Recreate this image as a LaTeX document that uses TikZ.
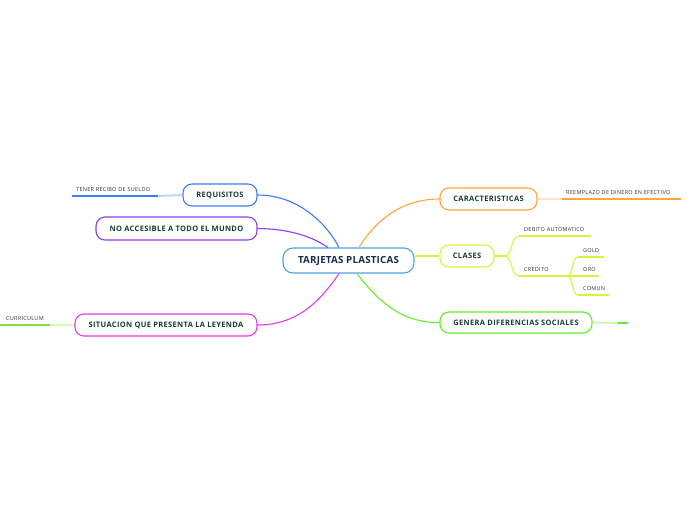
\documentclass[tikz,border=0pt]{standalone}
\usepackage{fontspec}
\setmainfont{Open Sans}
\definecolor{cblue}{HTML}{4EA3E6}
\definecolor{cnavy}{HTML}{1B2B4B}
\definecolor{creq}{HTML}{3A7DF7}
\definecolor{cpur}{HTML}{8B3CF5}
\definecolor{cmag}{HTML}{E63AE6}
\definecolor{cora}{HTML}{FFA53A}
\definecolor{cyel}{HTML}{D4F53C}
\definecolor{cgre}{HTML}{5CEF2A}
\definecolor{ccur}{HTML}{8CDD2E}
\definecolor{ctxt}{HTML}{173D33}
\definecolor{cleaf}{HTML}{333333}
\tikzset{
  topic/.style={draw, rounded corners=9pt, line width=1.1pt, fill=white, inner sep=0pt,
    font=\bfseries\fontsize{7.5}{8}\selectfont\addfontfeature{LetterSpace=4.5}, text=ctxt, minimum height=22pt},
  root/.style={draw=cblue, rounded corners=10pt, line width=1.1pt, fill=white, inner sep=0pt,
    font=\bfseries\fontsize{9.8}{11}\selectfont\addfontfeature{LetterSpace=2}, text=cnavy, minimum height=25pt, minimum width=131pt},
  leaf/.style={anchor=south west, inner xsep=0pt, inner ysep=4pt, align=left,
    font=\fontsize{5.5}{6}\selectfont\addfontfeature{LetterSpace=5}, text=cleaf},
  branch/.style={line width=1.1pt},
  uline/.style={line width=1.8pt},
}
\begin{document}
\begin{tikzpicture}[x=1pt,y=-1pt]
\useasboundingbox (0,0) rectangle (696,520);
% root
\node[root] (c) at (348.5,260.5) {TARJETAS PLASTICAS};
% main topics
\node[topic, draw=creq, minimum width=74pt] (req) at (220,195) {REQUISITOS};
\node[topic, draw=cpur, minimum width=161pt, minimum height=23pt] (noa) at (176.5,228.5) {NO ACCESIBLE A TODO EL MUNDO};
\node[topic, draw=cmag, minimum width=182pt] (sit) at (166,325) {SITUACION QUE PRESENTA LA LEYENDA};
\node[topic, draw=cora, minimum width=97pt] (car) at (488.5,199) {CARACTERISTICAS};
\node[topic, draw=cyel, minimum width=54pt] (cls) at (467,256) {CLASES};
\node[topic, draw=cgre, minimum width=152pt, minimum height=21pt] (gen) at (516,322.5) {GENERA DIFERENCIAS SOCIALES};
% leaves
\node[leaf, text width=86pt] (ten) at (72,196) {\hspace*{4pt}\mbox{TENER RECIBO DE SUELDO}};
\node[leaf, text width=50pt] (cur) at (0,325) {\hspace*{6pt}\mbox{CURRICULUM}};
\node[leaf, text width=119pt] (ree) at (562,199) {\hspace*{4pt}\mbox{REEMPLAZO DE DINERO EN EFECTIVO}};
\node[leaf, text width=72pt] (deb) at (519,236) {\hspace*{5pt}\mbox{DEBITO AUTOMATICO}};
\node[leaf, text width=48pt] (cre) at (519,276) {\hspace*{5pt}\mbox{CREDITO}};
\node[leaf, text width=26pt] (gol) at (578,257) {\hspace*{5pt}\mbox{GOLD}};
\node[leaf, text width=21pt] (oro) at (578,276) {\hspace*{5pt}\mbox{ORO}};
\node[leaf, text width=31pt] (com) at (578,295) {\hspace*{5pt}\mbox{COMUN}};
\coordinate (clsj) at (505,256);
\coordinate (genm) at (618,323);
\coordinate (gene) at (628,323);
% branches from root
\draw[branch, creq] (req.east) .. controls (300,195) and (328,226) .. ([xshift=-9.5pt]c.north);
\draw[branch, cpur] (noa.east) .. controls (293,229) and (314,238) .. ([xshift=-20.5pt]c.north);
\draw[branch, cora] ([xshift=10.5pt]c.north) .. controls (376,220) and (402,199) .. (car.west);
\draw[branch, cmag] ([xshift=-9.5pt]c.south) .. controls (321,300) and (298,325) .. (sit.east);
\draw[branch, cgre] ([xshift=8.5pt]c.south) .. controls (380,304) and (404,323) .. (gen.west);
\draw[branch, cyel] (c.east |- cls.west) -- (cls.west);
% leaf underlines
\draw[uline, creq] (ten.south west) -- (ten.south east);
\draw[uline, creq!35] (ten.south east) -- (req.west);
\draw[uline, ccur] (cur.south west) -- (cur.south east);
\draw[uline, ccur!30] (cur.south east) -- (sit.west);
\draw[uline, cora] (ree.south west) -- (ree.south east);
\draw[uline, cora!30] (car.east) -- (ree.south west);
\draw[uline, cgre!35] (gen.east) -- (genm);
\draw[uline, cgre] (genm) -- (gene);
\draw[uline, cyel] (deb.south west) -- (deb.south east);
\draw[uline, cyel] (cre.south west) -- (cre.south east);
\draw[uline, cyel] (gol.south west) -- (gol.south east);
\draw[uline, cyel] (oro.south west) -- (oro.south east);
\draw[uline, cyel] (com.south west) -- (com.south east);
% sub connectors
\draw[branch, cyel] (cls.east) -- (clsj);
\draw[branch, cyel] (clsj) .. controls (512,256) and (511,236) .. (deb.south west);
\draw[branch, cyel] (clsj) .. controls (512,256) and (511,276) .. (cre.south west);
\draw[branch, cyel] (cre.south east) .. controls (573,276) and (572,257) .. (gol.south west);
\draw[branch, cyel] (cre.south east) -- (oro.south west);
\draw[branch, cyel] (cre.south east) .. controls (573,276) and (572,295) .. (com.south west);
\end{tikzpicture}
\end{document}
